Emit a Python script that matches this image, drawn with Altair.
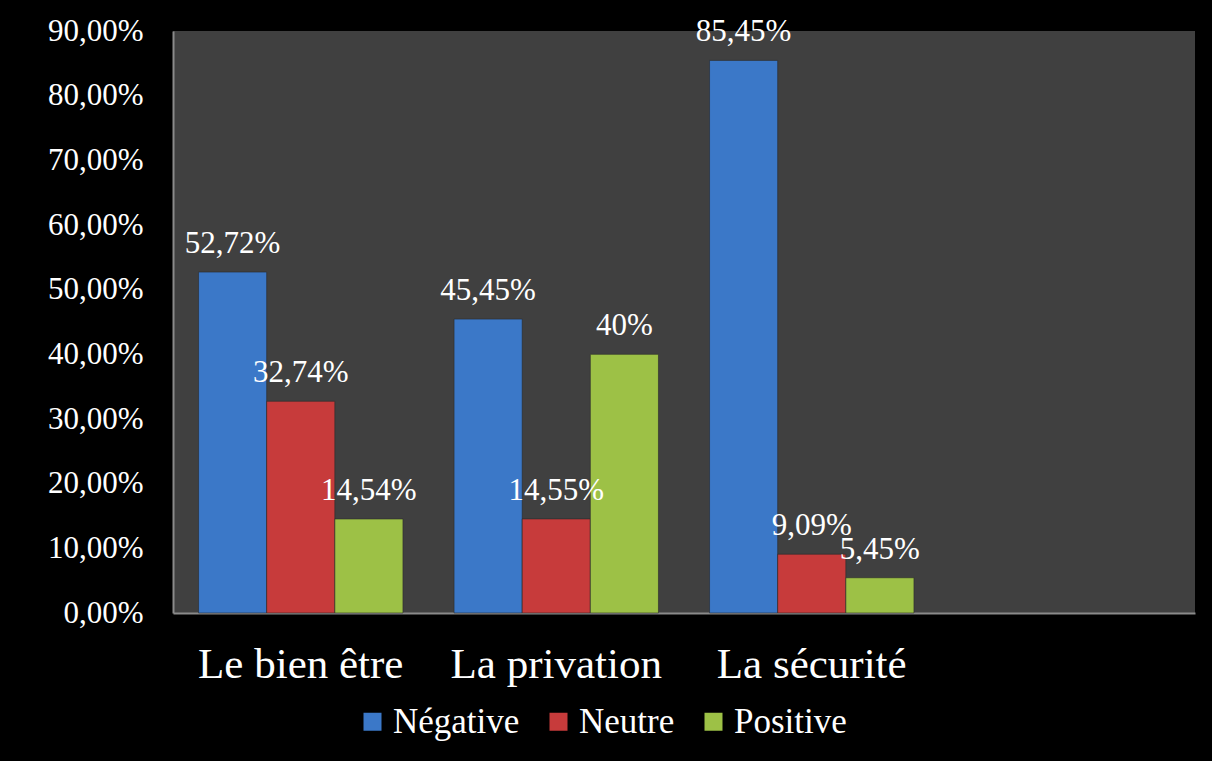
import altair as alt
import pandas as pd

categories = ["Le bien être", "La privation", "La sécurité"]
x_domain = ["Le bien être", "La privation", "La sécurité", " "]
series = ["Négative", "Neutre", "Positive"]
negative = [52.72, 45.45, 85.45]
neutre = [32.74, 14.55, 9.09]
positive = [14.54, 40.0, 5.45]
neg_labels = ["52,72%", "45,45%", "85,45%"]
neu_labels = ["32,74%", "14,55%", "9,09%"]
pos_labels = ["14,54%", "40%", "5,45%"]
colors = ["#3b78c8", "#c73b3b", "#9dc146"]

rows = []
for s, vals, labs in zip(series, [negative, neutre, positive], [neg_labels, neu_labels, pos_labels]):
    for c, v, l in zip(categories, vals, labs):
        rows.append({"cat": c, "serie": s, "value": v, "label": l})
df = pd.DataFrame(rows)

FONT = "Liberation Serif"

x_scale = alt.Scale(domain=x_domain, paddingInner=0.2, paddingOuter=0.1)
x_enc = alt.X("cat:N", scale=x_scale,
              axis=alt.Axis(title=None, labelAngle=0, labelFontSize=43, labelFont=FONT,
                            labelColor="white", ticks=False, labelPadding=30, labelLimit=0,
                            domainColor="#8a8a8a", domainWidth=2, grid=False))
xoff = alt.XOffset("serie:N", scale=alt.Scale(domain=series, paddingInner=0, paddingOuter=0))

bars = alt.Chart(df).mark_bar(stroke="#2a2a2a", strokeWidth=0.6).encode(
    x=x_enc,
    xOffset=xoff,
    y=alt.Y("value:Q", scale=alt.Scale(domain=[0, 90], nice=False),
            axis=alt.Axis(title=None, values=list(range(0, 91, 10)), grid=False, ticks=False,
                          labelFontSize=31, labelFont=FONT, labelColor="white", labelPadding=30,
                          domainColor="#8a8a8a", domainWidth=2,
                          labelExpr="replace(format(datum.value, '.2f'), '.', ',') + '%'")),
    color=alt.Color("serie:N", scale=alt.Scale(domain=series, range=colors),
                    legend=alt.Legend(title=None, orient="none", direction="horizontal",
                                      legendX=182, legendY=673, padding=0,
                                      labelFont=FONT, labelFontSize=35, labelColor="white",
                                      symbolType="square", symbolSize=324, symbolStrokeWidth=0,
                                      labelOffset=3, columnPadding=21)),
)

texts = alt.Chart(df).mark_text(baseline="alphabetic", dy=-19, fontSize=31, font=FONT,
                                color="white").encode(
    x=alt.X("cat:N", scale=x_scale),
    xOffset=xoff,
    y="value:Q",
    text="label:N",
)

chart = alt.layer(bars, texts).properties(
    width=1022, height=582,
    background="black",
    padding={"left": 173, "top": 31, "right": 17, "bottom": 148},
    autosize=alt.AutoSizeParams(type="none"),
).configure(font=FONT).configure_view(fill="#404040", stroke=None)

chart.save("out.html", embed_options={"renderer": "svg", "actions": False})
